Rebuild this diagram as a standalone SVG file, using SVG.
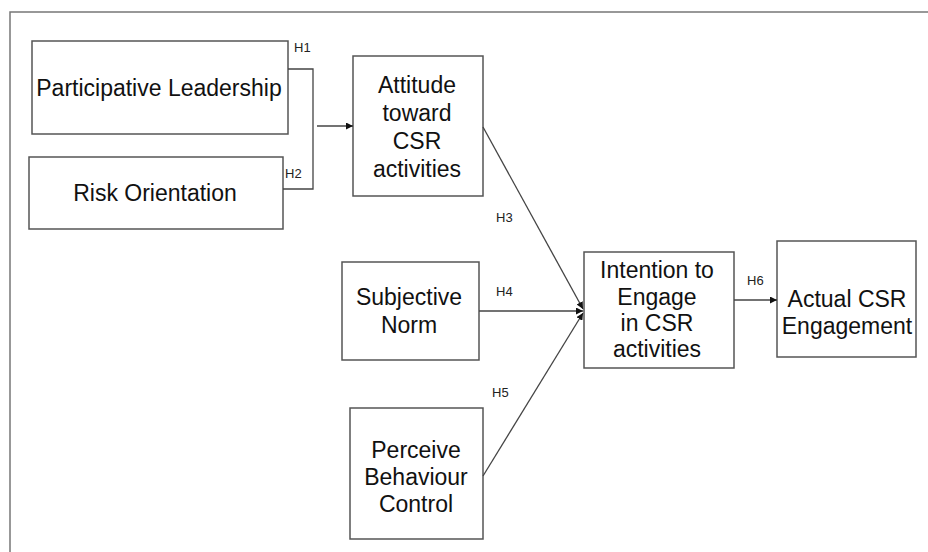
<svg xmlns="http://www.w3.org/2000/svg" width="928" height="552" viewBox="0 0 928 552">
<style>
.box{fill:#fff;stroke:#555;stroke-width:1.5}
.t{font-family:"Liberation Sans",Arial,sans-serif;font-size:23px;fill:#111;text-anchor:middle}
.h{font-family:"Liberation Sans",Arial,sans-serif;font-size:13px;fill:#222}
.c{fill:none;stroke:#444;stroke-width:1.3}
</style>
<defs>
<marker id="ah" viewBox="0 0 10 10" refX="10" refY="5" markerWidth="7" markerHeight="7" markerUnits="userSpaceOnUse" orient="auto">
<path d="M0,0 L10,5 L0,10 z" fill="#111"/>
</marker>
</defs>
<rect width="928" height="552" fill="#fff"/>
<path d="M10,552 V12 H928" fill="none" stroke="#777" stroke-width="1.5"/>
<g id="pl"><rect class="box" x="32" y="41" width="256" height="93"/><text class="t" x="159" y="96">Participative Leadership</text></g>
<g id="ro"><rect class="box" x="29" y="157" width="254" height="72"/><text class="t" x="155" y="201">Risk Orientation</text></g>
<g id="att"><rect class="box" x="353" y="56" width="130" height="140"/><text class="t" x="417" y="93">Attitude</text><text class="t" x="417" y="121">toward</text><text class="t" x="417" y="149">CSR</text><text class="t" x="417" y="177">activities</text></g>
<g id="sn"><rect class="box" x="342" y="262" width="137" height="98"/><text class="t" x="409" y="305">Subjective</text><text class="t" x="409" y="333">Norm</text></g>
<g id="pbc"><rect class="box" x="350" y="408" width="133" height="131"/><text class="t" x="416" y="458">Perceive</text><text class="t" x="416" y="485">Behaviour</text><text class="t" x="416" y="512">Control</text></g>
<g id="int"><rect class="box" x="584" y="252" width="150" height="116"/><text class="t" x="657" y="278">Intention to</text><text class="t" x="657" y="305">Engage</text><text class="t" x="657" y="331">in CSR</text><text class="t" x="657" y="357">activities</text></g>
<g id="act"><rect class="box" x="777" y="241" width="139" height="116"/><text class="t" x="847" y="307">Actual CSR</text><text class="t" x="847" y="334">Engagement</text></g>
<g id="connectors">
<path class="c" d="M288,69 H313 V189 H283"/>
<line class="c" x1="317" y1="126" x2="353" y2="126" marker-end="url(#ah)"/>
<line class="c" x1="483" y1="127" x2="583" y2="309" marker-end="url(#ah)"/>
<line class="c" x1="479" y1="311" x2="583" y2="311" marker-end="url(#ah)"/>
<line class="c" x1="483" y1="476" x2="583" y2="313" marker-end="url(#ah)"/>
<line class="c" x1="734" y1="300" x2="777" y2="300" marker-end="url(#ah)"/>
</g>
<g id="labels">
<text class="h" x="294" y="52">H1</text>
<text class="h" x="285" y="178">H2</text>
<text class="h" x="496" y="222">H3</text>
<text class="h" x="496" y="296">H4</text>
<text class="h" x="492" y="397">H5</text>
<text class="h" x="747" y="285">H6</text>
</g>
</svg>
